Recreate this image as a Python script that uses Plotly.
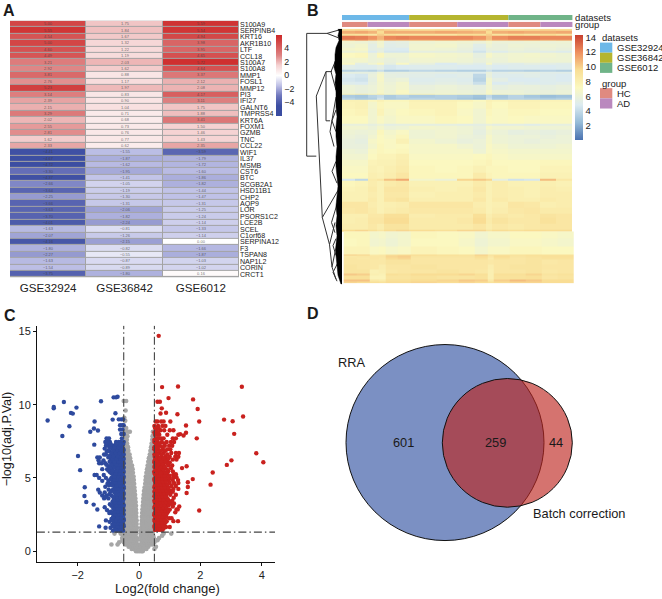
import numpy as np
import plotly.graph_objects as go

W, H = 662, 599
FONT = "Liberation Sans"


def px(x):
    return x / W


def py(y):
    return 1 - y / H


# panel A
genes = ["S100A9", "SERPINB4", "KRT16", "AKR1B10", "LTF", "CCL18", "S100A7", "S100A8", "MMP1", "FOSL1",
         "MMP12", "PI3", "IFI27", "GALNT6", "TMPRSS4", "KRT6A", "FOXM1", "GZMB", "TNC", "CCL22",
         "WIF1", "IL37", "MSMB", "CST6", "BTC", "SCGB2A1", "HSD11B1", "CHP2", "AQP9", "LOR",
         "PSORS1C2", "LCE2B", "SCEL", "C1orf68", "SERPINA12", "F3", "TSPAN8", "NAP1L2", "CORIN", "CRCT1"]
datasets = ["GSE32924", "GSE36842", "GSE6012"]
gse32924 = [5.00, 5.55, 4.54, 5.00, 4.60, 4.49, 3.21, 2.92, 3.81, 2.76,
            5.23, 3.14, 2.39, 2.15, 3.29, 2.02, 2.55, 2.81, 1.62, 2.33,
            -4.41, -4.67, -4.72, -3.30, -4.37, -2.66, -3.64, -2.25, -3.66, -3.63,
            -3.70, -4.01, -1.63, -2.07, -4.16, -1.80, -2.27, -1.63, -1.54, -3.75]
gse36842 = [1.75, 1.84, 1.67, 1.32, 1.22, 1.19, 2.03, 1.62, 0.88, 1.17,
            1.97, 0.83, 0.90, 1.04, 0.71, 0.68, 0.73, 0.76, 0.77, 0.62,
            -1.55, -1.87, -1.62, -1.95, -1.41, -1.05, -1.19, -1.30, -1.31, -2.06,
            -1.82, -2.24, -0.81, -1.26, -2.15, -0.82, -0.55, -0.87, -0.89, -1.80]
gse6012 = [5.59, 5.54, 4.94, 3.98, 3.95, 4.65, 5.72, 4.64, 3.37, 2.12,
           2.08, 4.17, 3.11, 1.75, 1.88, 3.41, 1.50, 1.46, 1.43, 2.35,
           -3.59, -1.79, -1.72, -1.60, -1.86, -1.82, -1.44, -1.47, -1.31, -1.25,
           -1.24, -1.14, -1.33, -1.14, 0.00, -1.66, -1.87, -1.03, -1.02, 0.16]

# panel B, samples per dataset and group
dataset_sizes = [21, 31, 20]
group_sizes = [8, 13, 15, 16, 10, 10]
dataset_colors = ["#6DB8E8", "#B5B52F", "#70B488"]
group_colors = ["#DF8A80", "#BA88BE", "#DF8A80", "#BA88BE", "#DF8A80", "#BA88BE"]
block_edges = [0, 4, 8, 11, 13, 17, 21, 29, 36, 41, 45, 47, 52, 57, 62, 67, 72]

band_heights = [2, 3, 2, 4, 1.5, 3, 4, 3, 2, 5, 5, 2, 5, 2, 2, 4, 4, 3, 5, 4, 1, 3, 2, 2,
                7, 7, 8, 2, 4, 5, 4, 5, 5, 5, 6, 6, 7, 6, 2, 6, 6, 6, 4, 6, 6, 4, 6, 6, 1.5]
band_values = [
    [9.4, 9.6, 9.2, 10.2, 9.8, 9.6, 9.4, 9.6, 9.8, 9.6, 10, 9.6, 9.4, 9.6, 9.8, 9.6],
    [11, 11.2, 10.8, 9.6, 11, 11, 11, 11.2, 11, 10.8, 9.6, 11, 11.2, 11, 11, 11.2],
    [9.2, 9, 8.8, 10, 9.4, 9, 9, 8.8, 9.4, 9.4, 10, 9, 9.4, 9, 9.6, 9],
    [12.6, 12.4, 11.8, 10.8, 12.2, 12.4, 12.2, 12.2, 12.2, 11.8, 10.6, 12, 12.4, 12.4, 12.2, 12.2],
    [11, 11.4, 10.6, 10, 11, 10.8, 10.8, 11, 10.8, 10.6, 10, 10.8, 11, 11, 10.8, 11],
    [6.4, 6.2, 5.8, 6.5, 5.4, 5.6, 6.2, 6.4, 6.3, 6, 6.6, 6, 6, 6.2, 6, 6.2],
    [6.2, 6.6, 5.4, 6.4, 5.2, 5.4, 6.4, 6.6, 6, 5.2, 6.2, 5.8, 6.2, 6, 6.2, 6],
    [6.6, 6.8, 5.4, 5.6, 5, 4.8, 6.4, 6.2, 5.8, 5, 5.8, 5.8, 6, 5.8, 6, 5.8],
    [6, 6.2, 4.8, 5.6, 4.6, 4.6, 5.6, 5.6, 5.4, 4.4, 5.4, 5, 5.6, 5.4, 5.2, 5],
    [7.2, 7.4, 6, 7.4, 6.2, 6.2, 6.8, 6.6, 6.4, 5.6, 6.8, 6.2, 6.4, 6.6, 6.4, 6.2],
    [6.6, 6.6, 6, 6.2, 5.8, 6, 6.4, 6.4, 6.2, 5.8, 6.2, 6, 6.4, 6.4, 6.2, 6.2],
    [7, 5.4, 6.4, 7.4, 5.6, 7, 5.8, 4.8, 5.6, 5.2, 6.8, 5.4, 5.2, 5.6, 5.4, 5.2],
    [5.2, 5, 5, 5.4, 4.6, 4.8, 5, 5, 4.8, 4.8, 5.2, 4.8, 5, 5, 4.8, 5],
    [3.6, 3.8, 3.6, 4.2, 3.4, 3.4, 3.8, 3.6, 3.4, 3.4, 4.2, 3.6, 3.6, 3.4, 3.6, 3.4],
    [5.6, 5.6, 5.6, 6.4, 5.4, 5.6, 5.4, 5.4, 5.2, 5, 5.8, 5.2, 5.4, 5.4, 5.2, 5.2],
    [4.8, 4.6, 5.8, 6.8, 5.6, 5.4, 5.2, 5, 5.2, 3.8, 5.8, 5, 5, 5.2, 5, 4.8],
    [4.6, 4.4, 5.6, 6.8, 5.8, 6, 5, 5.2, 5, 3.6, 6.4, 5.4, 4.8, 4.8, 5, 4.8],
    [5, 4.8, 5.8, 6.6, 6, 6.6, 5.2, 5.4, 5.2, 4.2, 6.6, 4.8, 5.2, 5, 5, 5.2],
    [6, 5.8, 6, 6.6, 6.2, 6.6, 5.8, 6, 5.8, 5.6, 6.4, 5.6, 5.8, 5.8, 5.6, 5.8],
    [6.2, 5.8, 6, 6.8, 6.2, 7, 6, 6.2, 6, 5.8, 6.8, 6, 6, 5.8, 5.8, 6],
    [7.6, 8, 7.4, 8, 7, 7.4, 7.6, 7, 6.8, 6.6, 7.4, 6.8, 6.8, 6.6, 6.2, 6.4],
    [3.2, 3, 3.6, 4, 3.2, 3.6, 3.2, 3.4, 3.2, 2.8, 3.8, 3, 3.6, 3, 2.6, 2.8],
    [3.6, 3.2, 3.4, 4.4, 3.2, 3.4, 3.6, 3.4, 3, 2.6, 4.2, 3.2, 3.6, 3.4, 3.2, 3.4],
    [7.8, 7.8, 7.4, 7.8, 7.4, 7.4, 7.8, 7.8, 7.6, 7.2, 7.8, 7.6, 7.8, 7.8, 7.6, 7.6],
    [7.6, 7.8, 6.6, 7.4, 7, 7, 7.6, 7.6, 7.2, 6.8, 7.6, 7.2, 7.6, 7.6, 7.4, 7.4],
    [7.4, 7.6, 6.4, 7.6, 6.8, 7.2, 7.4, 7.6, 7, 6.4, 7.4, 7, 7.4, 7.4, 7.2, 7.2],
    [7.2, 7.2, 6.4, 7, 6.6, 7, 7, 7.4, 7.2, 6.4, 7.2, 7, 7.2, 7, 7, 7],
    [5.8, 5.8, 5.6, 6, 5.4, 5.6, 5.6, 5.6, 5.4, 5.4, 5.8, 5.4, 5.4, 5.2, 5.6, 5.6],
    [6.4, 6.4, 6, 6.6, 6, 6.2, 6.6, 6.4, 6.2, 5.8, 6.8, 6.4, 6.4, 6.2, 6.2, 6.2],
    [6.2, 6, 6.2, 7.4, 6.6, 7, 6.2, 6.4, 6.2, 5.6, 6.4, 6, 5.6, 5.8, 5.6, 5.8],
    [6, 5.8, 6.4, 7.2, 6.8, 7.4, 6.2, 6.4, 6, 5.8, 6.8, 6.2, 6, 6, 5.8, 6],
    [5.8, 5.6, 6.8, 7.2, 7, 7.8, 6.6, 6.2, 5.8, 6, 6.8, 6.2, 6, 5.8, 6, 6],
    [5.8, 5.8, 6.6, 7.4, 7, 7.2, 6.8, 6.8, 6.4, 6, 7, 6.6, 6.2, 6.2, 6.2, 6.4],
    [6.2, 6, 7, 7.4, 7.2, 7.4, 6.8, 6.8, 6.8, 6.2, 7, 6.8, 6.6, 6.6, 6.6, 6.6],
    [6.4, 6.4, 7.2, 7.6, 7.6, 8, 7, 7, 7, 7.2, 7.4, 7, 6.8, 6.8, 6.8, 6.8],
    [6.8, 6.8, 7.6, 7.8, 7.8, 8.2, 7.2, 7.2, 7.2, 7.4, 7.6, 7.2, 7.2, 7.2, 7.4, 7.4],
    [7, 7, 7.8, 7.6, 8, 8.4, 7.4, 7.2, 7.4, 7.8, 7.4, 7.4, 7.2, 7.2, 7.6, 7.6],
    [7.2, 7.2, 8, 7.8, 8.2, 8.8, 7.4, 7.4, 7.4, 8.4, 7.6, 7.4, 7.4, 7.4, 7.8, 7.8],
    [4.6, 3.8, 8.4, 8.8, 10.4, 11.2, 6.6, 6, 9.8, 10.2, 9.8, 5.6, 4.4, 4.6, 10.6, 8.6],
    [7.4, 7.6, 8.2, 7.8, 8.4, 8.6, 7.8, 7.8, 7.8, 8.4, 7.8, 8.2, 7.8, 7.8, 8, 7.8],
    [7.6, 7.8, 8.4, 7.8, 8.8, 8.8, 8, 7.8, 8, 8.6, 7.8, 8.2, 8, 7.8, 8.2, 8],
    [7.8, 7.8, 8.2, 7.8, 8.6, 8.6, 7.8, 8, 8, 8.4, 7.8, 8.2, 8, 7.8, 8.2, 8.2],
    [7.8, 7.8, 8.4, 7.8, 8.8, 9, 8, 8, 8, 8.6, 7.8, 8.4, 8, 8, 8.4, 8.2],
    [8.8, 8.8, 8.2, 7.8, 8, 8.2, 8.8, 8.8, 8.8, 8.2, 7.8, 8, 8.8, 8.6, 8, 8.2],
    [8.6, 8.8, 8.4, 7.8, 8.2, 8.4, 8.6, 8.6, 8.6, 8.4, 7.8, 8.2, 8.6, 8.8, 8.4, 8.4],
    [8, 8, 8.6, 8.6, 9.4, 9.4, 8.2, 8.4, 8.4, 9.4, 8.2, 8.6, 8.4, 8.6, 9, 8.8],
    [8, 8.2, 8.8, 8.8, 9.6, 9.6, 8.4, 8.4, 8.6, 9.6, 8.4, 9, 8.6, 8.6, 9.2, 8.8],
    [8.2, 8.2, 8.6, 8.2, 9, 9, 8.4, 8.4, 8.4, 8.8, 8.2, 8.6, 8.4, 8.6, 8.8, 8.8],
    [9.6, 9.8, 9.4, 8.8, 9.6, 9.8, 9.6, 9.4, 9.8, 9.8, 9, 9.6, 9.4, 9.6, 9.6, 9.6],
]
low_heights = [7, 8, 8, 1.5, 2, 2, 5, 5, 4, 2, 4, 2, 1.5]
low_values = [
    [7.4, 7.4, 6.6, 6.8, 6.4, 6.6, 7.4, 7.2, 7, 6.4, 6.8, 6.8, 7.2, 7.2, 7, 6.8],
    [7.2, 7.4, 6.4, 6.6, 6.2, 6.6, 7.2, 7.2, 6.8, 6.2, 6.6, 6.6, 7, 7, 6.8, 6.6],
    [7.6, 7.6, 7, 7.2, 6.8, 7, 7.6, 7.4, 7.2, 6.6, 7, 7, 7.4, 7.4, 7.2, 7.2],
    [10, 9.8, 8.4, 8.6, 9.4, 9.6, 9.6, 9.4, 9.2, 10, 9.2, 9.2, 9.2, 9.4, 9.2, 9.2],
    [8.6, 8.8, 8.8, 8.8, 9.8, 10, 9, 9, 9, 9.6, 8.8, 9.6, 9, 9.2, 9.4, 9.4],
    [8.8, 8.6, 8.8, 8.6, 9.6, 9.8, 8.8, 8.8, 8.8, 9.2, 8.4, 9.2, 8.8, 9, 9.2, 9.2],
    [8.8, 8.8, 8.6, 8.6, 9, 9, 8.8, 8.8, 8.8, 8.8, 8.6, 8.8, 8.8, 9, 8.6, 8.8],
    [9, 8.8, 8.6, 8.2, 8.8, 8.8, 9, 8.8, 8.8, 8.8, 8.2, 8.8, 9, 9, 8.8, 8.8],
    [9, 9, 7.8, 8, 8.6, 8.8, 8.8, 9, 8.8, 8.6, 8, 8.8, 8.8, 9, 8.6, 8.8],
    [10.2, 10, 8, 7.8, 9.4, 9.2, 9.6, 9.6, 9.8, 9.4, 8, 9.4, 9.4, 9.8, 9, 9.2],
    [9.4, 9.4, 7.6, 7.6, 9, 9, 9.2, 9, 9, 9.2, 8, 9.2, 9.2, 9.4, 8.8, 9],
    [10.4, 10.4, 8.6, 8.4, 9.4, 9.4, 9.6, 9.8, 10.2, 10, 8.6, 10, 10.6, 10.2, 9.6, 9.6],
    [9.8, 9.6, 9.4, 9.2, 9.6, 9.6, 9.8, 9.6, 9.8, 9.6, 9.2, 9.6, 9.8, 9.8, 9.6, 9.6],
]

# dendrogram of panel B: branches, then the dense leaf edge
branch_x = [[327, 306.7, 306.7, 316.3], [326, 316.3, 316.3, 322.3], [332, 326, 326, 330],
            [338, 322.3, 322.3, 329.5], [335, 329.5, 329.5, 332], [337, 332, 332, 336],
            [340, 327, 327, 338], [339, 331, 331, 336], [336, 332, 332, 336], [336, 330, 330, 334],
            [338, 331.5, 331.5, 335], [336, 333, 333, 336], [338, 333, 333, 337], [336, 332, 332, 337]]
branch_y = [[30.7, 30.7, 154.7, 154.7], [69.3, 94, 94, 216.7], [69.3, 69.3, 119, 119],
            [189.3, 216.7, 216.7, 244], [221.7, 244, 244, 266.7], [242, 266.7, 266.7, 279],
            [27, 30.7, 30.7, 35], [50, 69.3, 69.3, 88], [108, 119, 119, 130], [95, 130, 130, 145],
            [200, 221.7, 221.7, 232], [238, 245, 245, 255], [262, 272, 272, 281], [160, 170, 170, 182]]
edge_y = [26, 29, 33, 38, 45, 52, 58, 65, 72, 80, 90, 97, 105, 115, 125, 135, 145, 155, 165,
          175, 185, 195, 205, 215, 225, 235, 245, 255, 265, 275, 284]
edge_x = [338, 339, 338, 339, 336, 335, 335, 334, 336, 335, 336, 336, 336, 337, 336, 336, 337,
          336, 336, 337, 338, 337, 336, 337, 336, 337, 336, 336, 337, 338, 341]

# panel C
blue_out_x = [-2.98, -2.78, -2.78, -2.45, -2.04, -2.22, -2.16, -2.27, -2.5, -1.99, -1.92, -1.24, -0.83,
              -0.75, -0.7, -0.77, -0.86, -1.45, -1.47, -1.59, -1.34, -1.46, -1.77, -1.78, -1.72, -1.48,
              -1.36, -1.3, -1.09, -1.08]
blue_out_y = [8.92, 9.84, 9.75, 10.18, 9.8, 9.44, 9.39, 8.53, 7.86, 6.5, 5.53, 10.23, 10.5,
              10.5, 10.54, 9.41, 8.98, 8.85, 8.37, 8.15, 8.24, 7.27, 4.36, 3.77, 3.36, 3.18,
              2.84, 1.69, 1.6, 2.1]
blue_rows = [
    (1.4, [-0.52, -0.6, -0.72, -0.85]), (1.6, [-0.55, -0.63, -0.69, -0.78, -0.93]),
    (1.8, [-0.51, -0.58, -0.66, -0.75, -0.87]), (2.0, [-0.53, -0.6, -0.71, -0.82, -0.96]),
    (2.2, [-0.5, -0.56, -0.64, -0.68, -0.79, -0.9]), (2.4, [-0.54, -0.61, -0.74, -0.83]),
    (2.6, [-0.52, -0.58, -0.66, -0.72, -0.88, -0.97]), (2.8, [-0.5, -0.6, -0.68, -0.77, -1.04]),
    (3.0, [-0.53, -0.57, -0.63, -0.71, -0.8, -1.12]), (3.2, [-0.51, -0.62, -0.7, -0.84, -0.95]),
    (3.4, [-0.55, -0.6, -0.66, -0.75, -0.86]), (3.6, [-0.5, -0.58, -0.69, -0.78, -1.0, -1.14]),
    (3.8, [-0.53, -0.61, -0.72, -0.9, -1.2, -1.05]), (4.0, [-0.51, -0.57, -0.65, -0.8, -1.12, -1.28]),
    (4.2, [-0.54, -0.62, -0.74, -0.85, -0.99, -1.33]), (4.4, [-0.5, -0.59, -0.68, -0.77, -1.1]),
    (4.6, [-0.52, -0.63, -0.72, -0.82, -0.93, -1.03]), (4.8, [-0.55, -0.6, -0.7, -0.86, -1.0, -1.2]),
    (5.0, [-0.51, -0.58, -0.66, -0.76, -0.9, -1.08, -1.3]), (5.2, [-0.53, -0.62, -0.73, -0.84, -1.15, -1.38, -1.45]),
    (5.4, [-0.5, -0.6, -0.68, -0.79, -0.95]), (5.6, [-0.54, -0.64, -0.72, -0.88, -1.04, -1.2]),
    (5.8, [-0.52, -0.58, -0.67, -0.8, -0.98]), (6.0, [-0.5, -0.62, -0.75, -0.86, -1.1, -1.3, -1.22]),
    (6.2, [-0.55, -0.61, -0.7, -0.82, -0.92, -1.16, -1.32]), (6.4, [-0.52, -0.66, -0.78, -0.9, -1.0, -1.36, -1.28]),
    (6.6, [-0.5, -0.59, -0.72, -0.85, -1.08, -1.14]), (6.8, [-0.56, -0.68, -0.8, -0.95, -1.05]),
    (7.0, [-0.52, -0.63, -0.76, -0.88, -1.12]), (7.2, [-0.58, -0.7, -0.84, -1.0, -1.08]),
    (7.45, [-0.5, -0.6, -0.66, -0.75, -0.95, -1.1, -1.02]), (7.7, [-0.56, -1.06, -0.98]),
    (8.0, [-0.5, -0.58]), (8.3, [-0.54, -0.62]), (8.6, [-0.55, -0.62, -0.5]), (9.0, [-0.58, -0.66, -0.52]),
    # the dense part next to the threshold
    (1.5, [-0.56, -0.64, -0.76]), (1.7, [-0.5, -0.6, -0.7, -0.84]), (1.9, [-0.55, -0.62, -0.72, -0.8]),
    (2.1, [-0.5, -0.57, -0.66, -0.76, -0.86]), (2.3, [-0.53, -0.6, -0.7, -0.85]), (2.5, [-0.5, -0.57, -0.68, -0.78]),
    (2.7, [-0.55, -0.63, -0.7, -0.8, -0.92]), (2.9, [-0.53, -0.57, -0.64, -0.73, -0.84]),
    (3.1, [-0.5, -0.6, -0.67, -0.75, -0.9]), (3.3, [-0.54, -0.58, -0.66, -0.78]), (3.5, [-0.52, -0.63, -0.72, -0.82]),
    (3.7, [-0.55, -0.64, -0.74, -0.84, -1.1]), (3.9, [-0.5, -0.58, -0.68, -0.76, -0.96]),
    (4.1, [-0.53, -0.6, -0.7, -0.82, -0.92]), (4.3, [-0.5, -0.57, -0.66, -0.72, -0.8]),
    (4.5, [-0.55, -0.62, -0.74, -0.88, -0.98]), (4.7, [-0.5, -0.58, -0.67, -0.78]),
    (4.9, [-0.53, -0.63, -0.74, -0.82, -0.94]), (5.1, [-0.5, -0.56, -0.68, -0.8]),
    (5.3, [-0.55, -0.66, -0.76, -0.9]), (5.5, [-0.52, -0.64, -0.74, -0.86, -1.0]),
    (5.7, [-0.5, -0.6, -0.7, -0.82, -0.94]), (5.9, [-0.55, -0.64, -0.74, -0.9, -1.06]),
    (6.1, [-0.52, -0.58, -0.68, -0.8, -0.96]), (6.3, [-0.5, -0.62, -0.74, -0.86]),
    (6.5, [-0.55, -0.63, -0.7, -0.84, -0.96]), (6.7, [-0.52, -0.64, -0.76, -0.9]),
    (6.9, [-0.5, -0.6, -0.72, -0.84, -1.0]), (7.1, [-0.55, -0.66, -0.8, -0.94]), (7.3, [-0.52, -0.62, -0.76, -0.92]),
]
red_out_x = [0.64, 0.75, 1.27, 3.35, 1.76, 0.96, 0.6, 0.68, 1.91, 0.74, 1.25, 0.7, 0.88, 3.39, 2.77, 3.05,
             1.96, 3.1, 1.53, 1.53, 1.34, 1.45, 1.88, 3.82, 4.05, 3.01, 2.86, 2.4, 2.33, 1.75, 1.55,
             1.4, 1.59, 1.59, 1.55, 1.96]
red_out_y = [14.7, 11.2, 11.24, 11.22, 10.36, 10.45, 10.2, 10.2, 9.7, 9.75, 9.35, 9.4, 9.45, 9.19, 8.98, 8.87,
             8.85, 8.01, 8.58, 8.08, 7.99, 7.9, 7.7, 6.68, 6.07, 6.2, 5.89, 5.37, 4.54, 4.92, 5.8,
             5.67, 4.7, 4.38, 3.97, 2.78]
red_rows = [
    (1.45, [0.52, 0.6, 0.68, 0.76]), (1.65, [0.5, 0.57, 0.64, 0.72, 0.88, 1.0]),
    (1.85, [0.53, 0.62, 0.7, 0.82]), (2.05, [0.51, 0.58, 0.66, 0.75, 0.9, 1.12, 1.27]),
    (2.25, [0.54, 0.6, 0.69, 0.79, 0.98, 1.06]), (2.45, [0.5, 0.56, 0.64, 0.73, 0.85]),
    (2.65, [0.52, 0.6, 0.68, 0.78, 0.93, 1.18]), (2.85, [0.55, 0.62, 0.71, 0.82, 1.0, 1.26, 1.22]),
    (3.05, [0.51, 0.58, 0.66, 0.76, 0.87, 1.1, 1.31]), (3.25, [0.53, 0.6, 0.7, 0.8, 0.92, 1.04, 1.14]),
    (3.45, [0.5, 0.57, 0.65, 0.74, 0.84, 0.96, 1.08]), (3.65, [0.54, 0.62, 0.72, 0.81, 0.9, 1.13]),
    (3.85, [0.52, 0.6, 0.67, 0.78, 0.88, 1.02, 1.2]), (4.05, [0.5, 0.58, 0.64, 0.74, 0.86, 0.98, 1.1]),
    (4.25, [0.55, 0.63, 0.7, 0.8, 0.94, 1.12, 1.28]), (4.45, [0.51, 0.58, 0.68, 0.77, 0.9, 1.06, 1.2]),
    (4.65, [0.53, 0.61, 0.66, 0.75, 0.85, 1.0, 1.14, 1.28]), (4.85, [0.5, 0.6, 0.7, 0.82, 0.96, 1.1, 1.27]),
    (5.05, [0.54, 0.62, 0.72, 0.88, 1.12, 1.22]), (5.25, [0.52, 0.58, 0.66, 0.8, 0.92, 1.12, 1.2]),
    (5.45, [0.5, 0.6, 0.7, 0.78, 0.95, 1.1]), (5.65, [0.55, 0.63, 0.74, 0.86, 1.04]),
    (5.85, [0.52, 0.6, 0.68, 0.8, 0.96, 1.08]), (6.05, [0.5, 0.58, 0.7, 0.84, 0.9, 1.0]),
    (6.25, [0.54, 0.64, 0.76, 0.92, 1.1, 1.22]), (6.45, [0.51, 0.6, 0.72, 0.86, 1.0, 1.18, 1.28]),
    (6.7, [0.56, 0.66, 0.8, 1.05, 1.2, 1.3]), (6.95, [0.5, 0.62, 0.78, 0.92, 1.02]),
    (7.2, [0.54, 0.68, 0.84, 0.98, 1.08]), (7.45, [0.5, 0.6, 0.74, 0.9, 1.04, 1.14]),
    (7.7, [0.56, 0.64, 0.72, 0.8, 1.1, 1.2]), (7.95, [0.52, 0.6, 0.66, 0.92, 1.28]),
    (8.25, [0.56, 0.7, 0.82, 1.0, 1.12]), (8.55, [0.5, 0.62, 0.76, 0.86]), (8.85, [0.54, 0.6, 0.72, 0.8, 1.02]),
    # the dense part next to the threshold
    (1.55, [0.55, 0.62, 0.7, 0.8]), (1.75, [0.51, 0.6, 0.68, 0.78]), (1.95, [0.55, 0.64, 0.74, 0.86]),
    (2.15, [0.5, 0.57, 0.63, 0.72, 0.84]), (2.35, [0.53, 0.62, 0.7, 0.76, 0.88]), (2.55, [0.5, 0.58, 0.67, 0.8, 0.9]),
    (2.75, [0.54, 0.64, 0.74, 0.86, 0.96]), (2.95, [0.5, 0.58, 0.68, 0.78, 0.9]),
    (3.15, [0.55, 0.63, 0.72, 0.83, 0.97]), (3.35, [0.51, 0.6, 0.68, 0.78, 0.88, 1.0]),
    (3.55, [0.54, 0.62, 0.7, 0.8, 0.94]), (3.75, [0.5, 0.58, 0.67, 0.76, 0.86]),
    (3.95, [0.55, 0.63, 0.72, 0.82, 0.94]), (4.15, [0.52, 0.6, 0.68, 0.78, 0.9, 1.02]),
    (4.35, [0.5, 0.58, 0.66, 0.74, 0.84, 0.96]), (4.55, [0.55, 0.63, 0.72, 0.82, 0.92]),
    (4.75, [0.52, 0.58, 0.68, 0.78, 0.88]), (4.95, [0.5, 0.56, 0.65, 0.76, 0.86, 1.0]),
    (5.15, [0.55, 0.64, 0.76, 0.84, 1.0]), (5.35, [0.5, 0.57, 0.7, 0.86]), (5.55, [0.54, 0.65, 0.8, 0.92]),
    (5.75, [0.5, 0.58, 0.7, 0.84]), (5.95, [0.55, 0.64, 0.76, 0.94]), (6.15, [0.5, 0.6, 0.72, 0.86]),
    (6.35, [0.54, 0.68, 0.8, 0.96]), (6.6, [0.5, 0.6, 0.74, 0.92]), (6.85, [0.54, 0.7, 0.86]),
    (7.1, [0.5, 0.6, 0.76]), (7.35, [0.56, 0.66, 0.82]), (7.6, [0.5, 0.6]), (8.1, [0.5, 0.62]), (8.4, [0.52, 0.64]),
]
gray_rows = [
    (0.0, [-0.1, -0.04, 0.02, 0.08, 0.12]),
    (0.15, [-0.24, -0.16, -0.08, 0.0, 0.08, 0.16, 0.24, 0.5]),
    (0.3, [-0.34, -0.26, -0.18, -0.1, -0.02, 0.06, 0.14, 0.22, 0.3, 0.55]),
    (0.45, [-0.9, -0.7, -0.44, -0.36, -0.28, -0.2, -0.12, -0.04, 0.04, 0.12, 0.2, 0.28, 0.36, 0.44]),
    (0.6, [-0.65, -0.5, -0.42, -0.34, -0.26, -0.18, -0.1, 0.1, 0.18, 0.26, 0.34, 0.42, 0.5]),
    (0.75, [-0.54, -0.46, -0.38, -0.3, -0.22, -0.14, -0.07, 0.07, 0.14, 0.22, 0.3, 0.38, 0.46, 0.6]),
    (0.9, [-0.55, -0.48, -0.4, -0.32, -0.24, -0.16, -0.07, 0.07, 0.16, 0.24, 0.32, 0.4, 0.48, 0.65]),
    (1.05, [-0.52, -0.44, -0.36, -0.28, -0.2, -0.12, 0.06, 0.14, 0.22, 0.3, 0.38, 0.46, 0.75]),
    (1.2, [-0.8, -0.6, -0.5, -0.42, -0.34, -0.26, -0.18, -0.1, 0.05, 0.12, 0.2, 0.28, 0.36, 0.44, 0.8, 1.05]),
    (1.4, [-0.49, -0.4, -0.32, -0.24, -0.16, -0.08, 0.06, 0.14, 0.22, 0.3, 0.38, 0.46]),
    (1.6, [-0.48, -0.4, -0.32, -0.24, -0.16, -0.07, 0.07, 0.14, 0.22, 0.3, 0.38, 0.46]),
    (1.85, [-0.48, -0.4, -0.32, -0.24, -0.16, -0.08, 0.08, 0.16, 0.24, 0.32, 0.4, 0.47]),
    (2.1, [-0.47, -0.39, -0.31, -0.23, -0.15, -0.08, 0.09, 0.16, 0.24, 0.32, 0.4, 0.47]),
    (2.35, [-0.48, -0.4, -0.32, -0.24, -0.16, -0.09, 0.09, 0.16, 0.24, 0.32, 0.4, 0.47]),
    (2.6, [-0.47, -0.39, -0.31, -0.23, -0.15, -0.09, 0.1, 0.17, 0.24, 0.32, 0.4, 0.47]),
    (2.85, [-0.48, -0.4, -0.32, -0.24, -0.16, -0.1, 0.11, 0.18, 0.26, 0.34, 0.42, 0.47]),
    (3.1, [-0.47, -0.39, -0.31, -0.23, -0.16, -0.1, 0.12, 0.19, 0.26, 0.34, 0.42, 0.47]),
    (3.35, [-0.48, -0.4, -0.32, -0.24, -0.16, -0.11, 0.13, 0.2, 0.27, 0.34, 0.42, 0.47]),
    (3.6, [-0.47, -0.39, -0.31, -0.23, -0.17, -0.12, 0.14, 0.2, 0.28, 0.36, 0.42, 0.47]),
    (3.85, [-0.48, -0.4, -0.32, -0.25, -0.18, -0.13, 0.15, 0.22, 0.3, 0.37, 0.43, 0.47]),
    (4.1, [-0.47, -0.39, -0.31, -0.24, -0.18, -0.14, 0.16, 0.23, 0.3, 0.38, 0.44, 0.47]),
    (4.35, [-0.48, -0.41, -0.33, -0.26, -0.2, -0.15, 0.18, 0.25, 0.32, 0.39, 0.44, 0.47]),
    (4.6, [-0.47, -0.4, -0.33, -0.26, -0.2, -0.16, 0.2, 0.26, 0.33, 0.4, 0.45]),
    (4.85, [-0.48, -0.41, -0.34, -0.27, -0.21, -0.17, 0.21, 0.28, 0.34, 0.4, 0.45]),
    (5.1, [-0.47, -0.4, -0.33, -0.27, -0.22, -0.18, 0.22, 0.29, 0.35, 0.41, 0.46]),
    (5.35, [-0.48, -0.41, -0.35, -0.29, -0.24, -0.2, 0.24, 0.3, 0.36, 0.42, 0.46]),
    (5.6, [-0.47, -0.41, -0.35, -0.3, -0.25, -0.21, 0.26, 0.32, 0.37, 0.42, 0.46]),
    (5.85, [-0.48, -0.42, -0.36, -0.31, -0.26, -0.23, 0.28, 0.33, 0.38, 0.43, 0.47]),
    (6.1, [-0.47, -0.41, -0.36, -0.31, -0.27, 0.3, 0.35, 0.4, 0.44, 0.47]),
    (6.35, [-0.48, -0.42, -0.37, -0.33, -0.29, 0.32, 0.37, 0.41, 0.45]),
    (6.6, [-0.47, -0.42, -0.38, -0.34, -0.31, 0.35, 0.39, 0.43, 0.46]),
    (6.85, [-0.48, -0.43, -0.39, -0.35, 0.37, 0.41, 0.45]),
    (7.1, [-0.47, -0.42, -0.38, -0.36, 0.39, 0.43, 0.46]),
    (7.35, [-0.47, -0.42, -0.39, 0.41, 0.45]),
    (7.6, [-0.46, -0.42, -0.4, 0.43, 0.46]),
    (7.85, [-0.46, -0.41, -0.38, 0.44, 0.47]),
    (8.15, [-0.44, -0.36, -0.3, 0.45]),
    (8.4, [-0.42, -0.46]), (8.9, [-0.45]), (9.1, [-0.48]), (9.6, [-0.44]), (10.25, [-0.5, -0.42]),
]
gray_x = [x for y, xs in gray_rows for x in xs]
gray_y = [y for y, xs in gray_rows for x in xs]
blue_x = blue_out_x + [x for y, xs in blue_rows for x in xs]
blue_y = blue_out_y + [y for y, xs in blue_rows for x in xs]
red_x = red_out_x + [x for y, xs in red_rows for x in xs]
red_y = red_out_y + [y for y, xs in red_rows for x in xs]

# panel D
venn_counts = [601, 259, 44]

fig = go.Figure()

# A heatmap
zmat = np.array([gse32924, gse36842, gse6012]).T
cell_text = [[f"{v:.2f}".replace("-", "\u2212") for v in row] for row in zmat]
scale_a = [[0, "#3A4CA0"], [0.125, "#3C4EA2"], [0.25, "#6E76BC"], [0.375, "#BEC0E6"], [0.5, "#FFFFFF"],
           [0.625, "#F5D2D2"], [0.75, "#DE8282"], [1, "#CD2828"]]
fig.add_trace(go.Heatmap(z=zmat, x=datasets, y=genes, text=cell_text, texttemplate="%{text}",
                         textfont=dict(size=4, color="rgba(60,60,60,0.75)"), colorscale=scale_a,
                         zmin=-6, zmax=6, xgap=1, ygap=1, xaxis="x", yaxis="y",
                         colorbar=dict(x=px(276.3), xanchor="left", y=py(32), yanchor="top", len=82.3 / H,
                                       thickness=5.7, outlinewidth=0, xpad=0, ypad=0, ticklen=0,
                                       tickvals=[-4, -2, 0, 2, 4], tickfont=dict(size=8.8, family=FONT, color="#222"))))

# B annotation strips
fig.add_trace(go.Bar(x=dataset_sizes, base=np.cumsum([0] + dataset_sizes[:-1]), y=["datasets"] * 3, orientation="h",
                     width=1, marker=dict(color=dataset_colors, line_width=0), xaxis="x3", yaxis="y3"))
fig.add_trace(go.Bar(x=group_sizes, base=np.cumsum([0] + group_sizes[:-1]), y=["group"] * 6, orientation="h",
                     width=1, marker=dict(color=group_colors, line_width=0), xaxis="x4", yaxis="y4"))

# B heatmap
rdylbu = [[0, "#4A72B0"], [1 / 6, "#96BCD8"], [2 / 6, "#DCEBF0"], [3 / 6, "#FBF8C0"], [4 / 6, "#F9DE95"],
          [5 / 6, "#EE9060"], [1, "#C8402F"]]
row_edges = np.cumsum([0] + band_heights)
low_edges = row_edges[-1] + np.cumsum([0] + low_heights)
fig.add_trace(go.Heatmap(z=band_values, x=block_edges, y=row_edges, colorscale=rdylbu, zmin=0.07, zmax=14.3,
                         xaxis="x2", yaxis="y2", zsmooth=False,
                         colorbar=dict(x=px(575.3), xanchor="left", y=py(32.3), yanchor="top", len=106.4 / H,
                                       thickness=8.4, outlinewidth=0, xpad=0, ypad=0, ticklen=0,
                                       tickvals=[2, 4, 6, 8, 10, 12, 14],
                                       tickfont=dict(size=9.5, family=FONT, color="#222"))))
fig.add_trace(go.Heatmap(z=low_values, x=[e + 0.53 for e in block_edges], y=low_edges, colorscale=rdylbu,
                         zmin=0.07, zmax=14.3, showscale=False, xaxis="x2", yaxis="y2"))

# B dendrogram
link_x, link_y = [], []
for bx, by in zip(branch_x, branch_y):
    link_x += bx + [None]
    link_y += by + [None]
fig.add_trace(go.Scatter(x=link_x, y=link_y, mode="lines", line=dict(color="#333333", width=1), xaxis="x5", yaxis="y5"))
fig.add_trace(go.Scatter(x=edge_x + [342, 342], y=edge_y + [284, 26], mode="lines", fill="toself", fillcolor="#000000",
                         line=dict(color="#000000", width=0.5), xaxis="x5", yaxis="y5"))

# C volcano
fig.add_trace(go.Scatter(x=gray_x, y=gray_y, mode="markers", marker=dict(size=4.6, color="#A6A6A6"), xaxis="x6", yaxis="y6"))
fig.add_trace(go.Scatter(x=blue_x, y=blue_y, mode="markers", marker=dict(size=4.4, color="#2E4A9E"), xaxis="x6", yaxis="y6"))
fig.add_trace(go.Scatter(x=red_x, y=red_y, mode="markers", marker=dict(size=4.4, color="#C9211E"), xaxis="x6", yaxis="y6"))

shapes = [
    dict(type="rect", xref="paper", yref="paper", x0=px(10), x1=px(239), y0=py(18), y1=py(277),
         fillcolor="#A3A3A3", line_width=0, layer="below"),
]
for xv in [-0.5, 0.5]:
    shapes.append(dict(type="line", xref="x6", yref="y6", x0=xv, x1=xv, y0=-0.72, y1=15.4,
                       line=dict(color="#444444", width=1.1, dash="8px,3px,1.5px,3px")))
shapes.append(dict(type="line", xref="x6", yref="y6", x0=-3.33, x1=4.43, y0=1.3, y1=1.3,
                   line=dict(color="#444444", width=1.1, dash="8px,3px,1.5px,3px")))

# D venn
shapes.append(dict(type="circle", xref="paper", yref="paper", x0=px(346), x1=px(544), y0=py(345), y1=py(543),
                   fillcolor="#7B90C3", line=dict(color="#111111", width=1)))
shapes.append(dict(type="circle", xref="paper", yref="paper", x0=px(442.3), x1=px(572.3), y0=py(379.3), y1=py(509.3),
                   fillcolor="rgba(189,36,30,0.64)", line=dict(color="#111111", width=1)))

# B legend swatches
for i, c in enumerate(dataset_colors):
    shapes.append(dict(type="rect", xref="paper", yref="paper", x0=px(600), x1=px(612.3), y0=py(40 + i * 10.2),
                       y1=py(50.2 + i * 10.2), fillcolor=c, line_width=0))
for i, c in enumerate(group_colors[:2]):
    shapes.append(dict(type="rect", xref="paper", yref="paper", x0=px(600), x1=px(612.3), y0=py(86 + i * 10.3),
                       y1=py(96.3 + i * 10.3), fillcolor=c, line_width=0))


def note(x, y, text, size=9.5, anchor="left", weight="normal", angle=0):
    return dict(xref="paper", yref="paper", x=px(x), y=py(y), text=text, showarrow=False, xanchor=anchor,
                yanchor="middle", textangle=angle, font=dict(size=size, family=FONT, color="#1a1a1a", weight=weight))


notes = [note(1, 8, "A", 16, weight="bold"), note(305, 8, "B", 16, weight="bold"),
         note(1.5, 316, "C", 16, weight="bold"), note(305, 314, "D", 16, weight="bold"),
         note(600, 35, "datasets"), note(600, 81, "group")]
for i, name in enumerate(datasets):
    notes.append(note(615, 45 + i * 10.2, name))
notes += [note(615, 91, "HC"), note(615, 101.3, "AD")]
notes += [note(167.5, 591, "Log2(fold change)", 13, "center"),
          note(6.7, 441, "\u2212log10(adj.P.Val)", 12.6, "center", angle=-90),
          note(403.3, 443.5, str(venn_counts[0]), 12.8, "center"),
          note(495, 443.5, str(venn_counts[1]), 12.8, "center"),
          note(556, 443.5, str(venn_counts[2]), 12.8, "center"),
          note(351.7, 362.7, "RRA", 12.8, "center"),
          note(579, 515.3, "Batch correction", 12.8, "center")]

off = dict(visible=False, fixedrange=True)
fig.update_layout(
    width=W, height=H, margin=dict(l=0, r=0, t=0, b=0), autosize=False, showlegend=False,
    paper_bgcolor="white", plot_bgcolor="rgba(0,0,0,0)", font=dict(family=FONT, color="#1a1a1a"),
    shapes=shapes, annotations=notes, barmode="overlay",
    xaxis=dict(domain=[px(10), px(239)], showgrid=False, zeroline=False, ticks="", showline=False, ticklabelstandoff=2,
               tickfont=dict(size=11.6, family=FONT, color="#222")),
    yaxis=dict(domain=[py(277), py(18)], autorange="reversed", side="right", showgrid=False, zeroline=False,
               ticks="", showline=False, dtick=1, tickfont=dict(size=7.1, family=FONT, color="#222")),
    xaxis2=dict(domain=[px(342), px(574.1)], range=[0, 72.53], **off),
    yaxis2=dict(domain=[py(283), py(26)], range=[float(low_edges[-1]), 0], **off),
    xaxis3=dict(domain=[px(342), px(574.1)], range=[0, 72.53], **off),
    yaxis3=dict(domain=[py(17.3), py(12)], side="right", anchor="x3", showgrid=False, showline=False, ticks="",
                fixedrange=True, tickfont=dict(size=9.5, family=FONT, color="#222")),
    xaxis4=dict(domain=[px(342), px(574.1)], range=[0, 72.53], **off),
    yaxis4=dict(domain=[py(24.3), py(19)], side="right", anchor="x4", showgrid=False, showline=False, ticks="",
                fixedrange=True, tickfont=dict(size=9.5, family=FONT, color="#222")),
    xaxis5=dict(domain=[px(306), px(342)], range=[306, 342], **off),
    yaxis5=dict(domain=[py(284), py(26)], range=[284, 26], **off),
    xaxis6=dict(domain=[px(37), px(275)], range=[-3.326, 4.43], anchor="y6", showgrid=False, zeroline=False,
                showline=True, linecolor="#111111", linewidth=1, ticks="outside", ticklen=3, tickcolor="#111111",
                tickvals=[-2, 0, 2, 4], tickfont=dict(size=11, family=FONT, color="#222")),
    yaxis6=dict(domain=[py(564.3), py(326)], range=[-0.716, 15.39], anchor="x6", showgrid=False, zeroline=False,
                showline=True, linecolor="#111111", linewidth=1, ticks="outside", ticklen=3, tickcolor="#111111",
                tickvals=[0, 5, 10, 15], tickfont=dict(size=11, family=FONT, color="#222")),
)

# the page's default body margin would push the figure off by 8px
fig.write_html("out.html", config={"displayModeBar": False}, post_script="document.body.style.margin='0';")
